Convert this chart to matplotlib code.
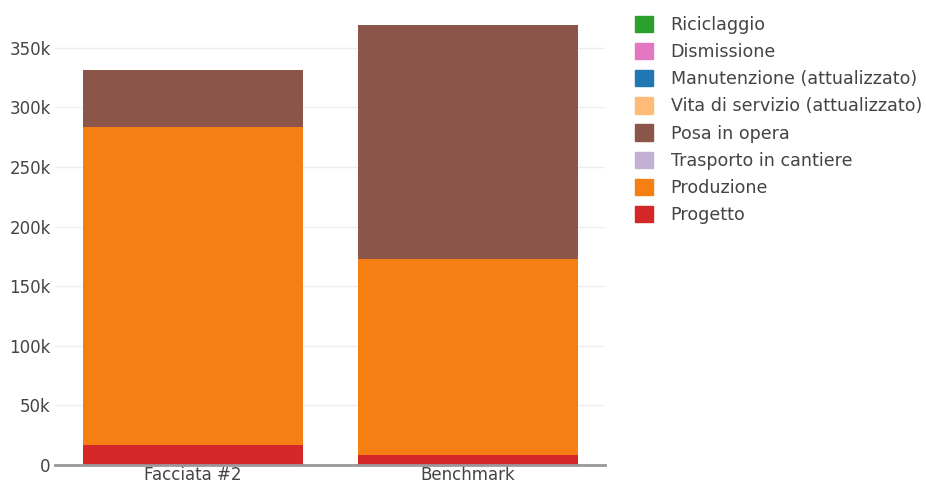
import matplotlib.pyplot as plt
import matplotlib.patches as mpatches
from matplotlib.ticker import FuncFormatter

# dati (in unità)
categorie = ['Facciata #2', 'Benchmark']
fasi = ['Progetto', 'Produzione', 'Trasporto in cantiere', 'Posa in opera',
        'Vita di servizio (attualizzato)', 'Manutenzione (attualizzato)',
        'Dismissione', 'Riciclaggio']
progetto = [16800, 8400]
produzione = [266900, 164100]
trasporto = [0, 0]
posa = [47600, 196500]
vita = [0, 0]
manutenzione = [0, 0]
dismissione = [0, 0]
riciclaggio = [0, 0]
colori = ['#d62728', '#f57f12', '#c5b0d5', '#8b5549',
          '#ffbb78', '#1f77b4', '#e377c2', '#2ca02c']

serie = [progetto, produzione, trasporto, posa, vita, manutenzione, dismissione, riciclaggio]

plt.rcParams['font.family'] = ['DejaVu Sans']

fig = plt.figure(figsize=(9.26, 4.87), dpi=100)
ax = fig.add_axes([55 / 926, 22 / 487, 550 / 926, 462 / 487])

x = list(range(len(categorie)))
base = [0] * len(categorie)
for valori, colore in zip(serie, colori):
    ax.bar(x, valori, width=0.8, bottom=base, color=colore, zorder=3)
    base = [b + v for b, v in zip(base, valori)]

ax.set_xlim(-0.5, 1.5)
ax.set_ylim(0, 387500)
ax.set_yticks(range(0, 350001, 50000))
ax.yaxis.set_major_formatter(FuncFormatter(lambda v, p: '0' if v == 0 else f'{int(v / 1000)}k'))
ax.set_xticks(x)
ax.set_xticklabels(categorie)
ax.grid(axis='y', color='#eeeeee', linewidth=1, zorder=0)
for s in ['top', 'right', 'left']:
    ax.spines[s].set_visible(False)
ax.spines['bottom'].set_color('#999999')
ax.spines['bottom'].set_linewidth(2)
ax.spines['bottom'].set_zorder(4)
ax.tick_params(axis='both', length=0, labelsize=12, colors='#444444', pad=3)
ax.tick_params(axis='x', pad=1)

# legenda (ordine inverso)
handles = [mpatches.Patch(facecolor=c, edgecolor=c, alpha=1) for c in colori][::-1]
fig.legend(handles, fasi[::-1], loc='upper left', bbox_to_anchor=(619 / 926, 1 - 0 / 487),
           frameon=False, fontsize=12.6, labelcolor='#444444',
           handlelength=1.05, handleheight=1.05, handletextpad=1.0, labelspacing=0.52)

fig.savefig('out.png', dpi=100)
